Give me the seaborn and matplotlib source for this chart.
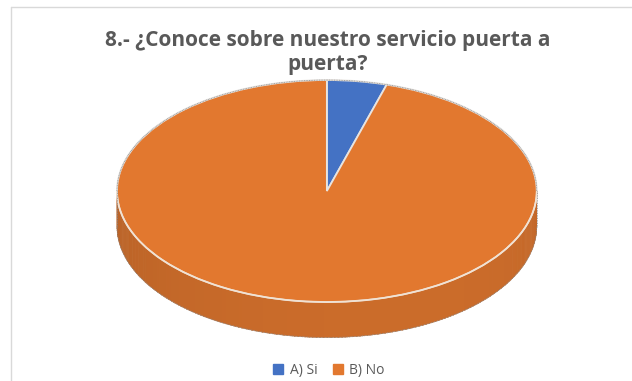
import numpy as np
import matplotlib
matplotlib.use("Agg")
import matplotlib.pyplot as plt
import matplotlib.colors as mcolors
from matplotlib.lines import Line2D
from matplotlib.patches import Polygon
import seaborn as sns

# ---- data ----
categories = ["A) Si", "B) No"]
values = [4.6, 95.4]
colors = ["#4472C4", "#E2782F"]
title = "8.- ¿Conoce sobre nuestro servicio puerta a\npuerta?"

sns.set_theme(style="white")
plt.rcParams["font.family"] = ["Open Sans", "DejaVu Sans"]

fig = plt.figure(figsize=(6.32, 3.81), dpi=100)
fig.patch.set_facecolor("white")

# pie axes (non-equal aspect -> ellipse for a 3D look)
ax = fig.add_axes([0.1187, 0.0325, 0.797, 0.8157])
wedges, _ = ax.pie(values, colors=colors, startangle=90, counterclock=False,
                   wedgeprops=dict(edgecolor="#E8E4E0", linewidth=1.3),
                   radius=1.0, center=(0, 0), frame=False)
ax.set_aspect("auto")
ax.set_xlim(-1.2, 1.2)
ax.set_ylim(-1.6, 1.2)
ax.axis("off")

depth = 0.32
# side band (front half) built from the wedges' angles
step = 1.0
angles = np.arange(180.0, 360.0, step)
for t in angles:
    tm = (t + step / 2) % 360
    col = colors[-1]
    for w, c in zip(wedges, colors):
        a1, a2 = w.theta1, w.theta2
        if (tm - a1) % 360 <= (a2 - a1):
            col = c
            break
    f = 0.84 + 0.06 * np.cos(np.radians(t + step / 2 - 290))
    rgb = np.array(mcolors.to_rgb(col)) * f
    t1, t2 = np.radians(t), np.radians(t + step + 0.3)
    pts = [(np.cos(t1), np.sin(t1)), (np.cos(t2), np.sin(t2)),
           (np.cos(t2), np.sin(t2) - depth), (np.cos(t1), np.sin(t1) - depth)]
    ax.add_patch(Polygon(pts, closed=True, facecolor=rgb, edgecolor=rgb,
                         linewidth=0.3, zorder=0.5))

# rim highlight along front edge of top face
tt = np.radians(np.linspace(180, 360, 200))
ax.plot(np.cos(tt), np.sin(tt), color="#F2E2D2", lw=1.1, zorder=3)
# thin outer outline
ax.plot(np.cos(tt), np.sin(tt) - depth, color="#8A8A8A", lw=0.6, ls=(0, (1, 1)), zorder=3)
tb = np.radians(np.linspace(0, 180, 200))
ax.plot(np.cos(tb), np.sin(tb), color="#8A8A8A", lw=0.6, ls=(0, (1, 1)), zorder=3)
ax.plot([-1, -1], [0, -depth], color="#8A8A8A", lw=0.6, ls=(0, (1, 1)), zorder=3)
ax.plot([1, 1], [0, -depth], color="#8A8A8A", lw=0.6, ls=(0, (1, 1)), zorder=3)

# title
fig.text(0.519, 1 - 30 / 381, title, ha="center", va="top", fontsize=15,
         fontweight="bold", color="#595959", linespacing=1.2)

# legend
handles = [Line2D([0], [0], marker="s", color="none", markerfacecolor=c,
                  markeredgecolor=c, markersize=6.5) for c in colors]
fig.legend(handles, categories, loc="center", bbox_to_anchor=(0.519, 0.027),
           ncol=2, frameon=False, fontsize=10, labelcolor="#595959",
           handletextpad=0.3, columnspacing=1.0, handlelength=1.0)

# chart frame (top and left edges visible)
fig.add_artist(Line2D([11 / 632, 1.0], [1 - 7 / 381, 1 - 7 / 381],
                      color="#D9D9D9", lw=1.0, transform=fig.transFigure))
fig.add_artist(Line2D([11 / 632, 11 / 632], [0.0, 1 - 7 / 381],
                      color="#D9D9D9", lw=1.0, transform=fig.transFigure))

fig.savefig("out.png", dpi=100, facecolor="white")
